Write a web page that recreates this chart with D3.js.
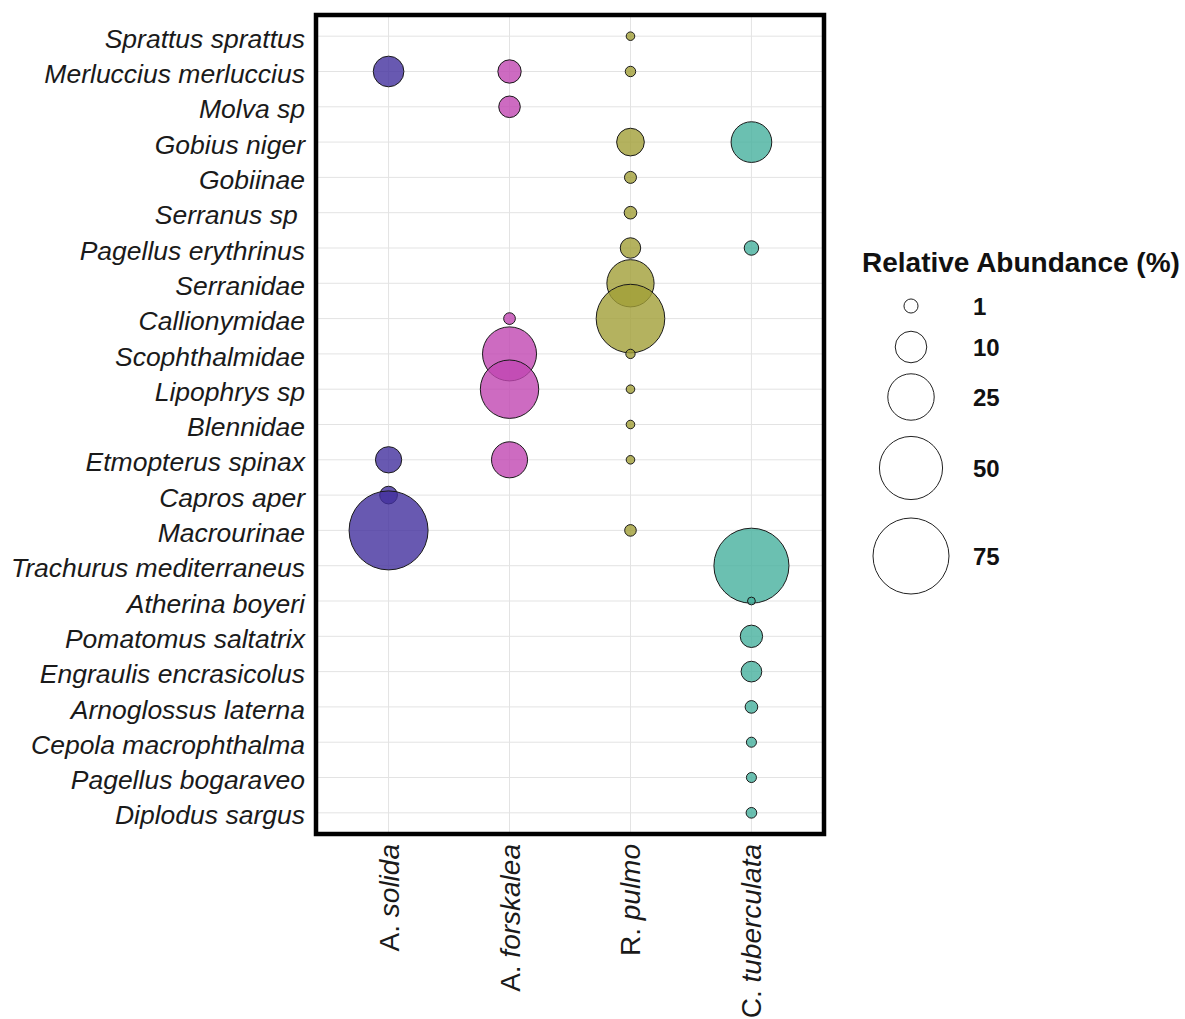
<!DOCTYPE html>
<html>
<head>
<meta charset="utf-8">
<script src="https://cdn.jsdelivr.net/npm/d3@7"></script>
<style>
  html, body { margin: 0; padding: 0; background: #fff; }
  svg { display: block; font-family: "Liberation Sans", Arial, sans-serif; }
</style>
</head>
<body>
<svg id="chart" width="1185" height="1019"></svg>
<script>
// ---- data ----
const species = [
  "Sprattus sprattus", "Merluccius merluccius", "Molva sp", "Gobius niger", "Gobiinae",
  "Serranus sp ", "Pagellus erythrinus", "Serranidae", "Callionymidae", "Scophthalmidae",
  "Lipophrys sp", "Blennidae", "Etmopterus spinax", "Capros aper", "Macrourinae",
  "Trachurus mediterraneus", "Atherina boyeri", "Pomatomus saltatrix", "Engraulis encrasicolus",
  "Arnoglossus laterna", "Cepola macrophthalma", "Pagellus bogaraveo", "Diplodus sargus"
];
const predatorGenus = ["A.", "A.", "R.", "C."];
const predatorEpithet = ["solida", "forskalea", "pulmo", "tuberculata"];
const predators = ["A. solida", "A. forskalea", "R. pulmo", "C. tuberculata"];
const predatorColors = ["#42309e", "#c046b1", "#a19f37", "#46b09d"];

// relative abundance (%) per predator, aligned with species (null = absent)
const aSolida = [null, 9.3, null, null, null, null, null, null, null, null, null, null, 6.3, 2.1, 81.6, null, null, null, null, null, null, null, null];
const aForskalea = [null, 4.6, 3.7, null, null, null, null, null, 0.5, 35.3, 42, null, 13.8, null, null, null, null, null, null, null, null, null, null];
const rPulmo = [0.1, 0.3, null, 7.2, 0.55, 0.67, 3.2, 26, 60, 0.17, 0.1, 0.1, 0.1, null, 0.48, null, null, null, null, null, null, null, null];
const cTuberculata = [null, null, null, 18.4, null, null, 1.1, null, null, null, null, null, null, null, null, 73, 0.05, 4.1, 3.3, 0.67, 0.25, 0.25, 0.33];
const seriesValues = [aSolida, aForskalea, rPulmo, cTuberculata];

const legendTitle = "Relative Abundance (%)";
const legendBreaks = [1, 10, 25, 50, 75];

// ---- layout ----
const svg = d3.select("#chart");
const panel = { left: 316, right: 824, top: 15, bottom: 834 };

const x = d3.scalePoint().domain(predators).range([panel.left, panel.right]).padding(0.6);
const y = d3.scalePoint().domain(species).range([panel.top, panel.bottom]).padding(0.6);
const r = d3.scaleSqrt().domain([0, 75]).range([3, 38]);
const color = d3.scaleOrdinal().domain(predators).range(predatorColors);

// grid
const grid = svg.append("g");
grid.selectAll("line.h").data(species).join("line")
  .attr("x1", panel.left).attr("x2", panel.right)
  .attr("y1", d => y(d)).attr("y2", d => y(d))
  .attr("stroke", "#e3e3e3").attr("stroke-width", 1);
grid.selectAll("line.v").data(predators).join("line")
  .attr("y1", panel.top).attr("y2", panel.bottom)
  .attr("x1", d => x(d)).attr("x2", d => x(d))
  .attr("stroke", "#e3e3e3").attr("stroke-width", 1);

// points
const points = [];
predators.forEach((p, i) => {
  seriesValues[i].forEach((v, j) => {
    if (v !== null) points.push({ predator: p, species: species[j], value: v });
  });
});

svg.append("g").selectAll("circle").data(points).join("circle")
  .attr("cx", d => x(d.predator))
  .attr("cy", d => y(d.species))
  .attr("r", d => r(d.value))
  .attr("fill", d => color(d.predator))
  .attr("fill-opacity", 0.8)
  .attr("stroke", "#1a1a1a")
  .attr("stroke-width", 1);

// panel border
svg.append("rect")
  .attr("x", panel.left).attr("y", panel.top)
  .attr("width", panel.right - panel.left).attr("height", panel.bottom - panel.top)
  .attr("fill", "none").attr("stroke", "#000").attr("stroke-width", 4.5);

// y axis labels
const yAxis = d3.axisLeft(y).tickSize(0).tickPadding(11);
const gy = svg.append("g").attr("transform", `translate(${panel.left},0)`).call(yAxis);
gy.select(".domain").remove();
gy.selectAll("text")
  .attr("font-size", 26.5).attr("font-style", "italic")
  .attr("font-family", "Liberation Sans, Arial, sans-serif")
  .attr("fill", "#1a1a1a")
  .attr("dy", "0.42em")
  .style("white-space", "pre");

// x axis labels (rotated)
const gx = svg.append("g");
predators.forEach((p, i) => {
  const t = gx.append("text")
    .attr("transform", `translate(${x(p) + 10},${panel.bottom + 10}) rotate(-90)`)
    .attr("text-anchor", "end")
    .attr("font-size", 28)
    .attr("fill", "#1a1a1a");
  t.append("tspan").text(predatorGenus[i] + " ");
  t.append("tspan").attr("font-style", "italic").text(predatorEpithet[i]);
});

// legend
const lg = svg.append("g");
lg.append("text").attr("x", 862).attr("y", 272)
  .attr("font-size", 28).attr("font-weight", "bold").attr("fill", "#111")
  .text(legendTitle);
const legendY = d3.scaleOrdinal().domain(legendBreaks).range([306, 347, 397, 468, 556]);
lg.selectAll("circle").data(legendBreaks).join("circle")
  .attr("cx", 911).attr("cy", d => legendY(d)).attr("r", d => r(d))
  .attr("fill", "none").attr("stroke", "#222").attr("stroke-width", 1);
lg.selectAll("text.lbl").data(legendBreaks).join("text")
  .attr("class", "lbl")
  .attr("x", 973).attr("y", d => legendY(d)).attr("dy", "0.36em")
  .attr("font-size", 24).attr("font-weight", "bold").attr("fill", "#111")
  .text(d => d);
</script>
</body>
</html>
